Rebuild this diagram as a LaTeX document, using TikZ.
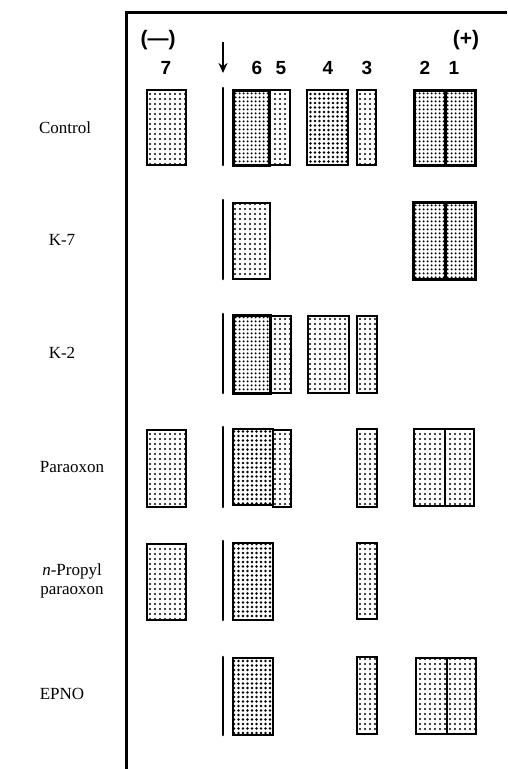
\documentclass[tikz,border=0pt]{standalone}
\usepackage{fontspec}
\setmainfont{Liberation Serif}
\newfontfamily\numfont{Liberation Sans}
\usetikzlibrary{patterns.meta,arrows.meta}
\tikzset{
  gel/.style={draw, line width=2.2pt, inner sep=0pt},
  thin gel/.style={gel, pattern={Dots[distance=5pt, radius=1.2pt]}},
  dense gel/.style={gel, line width=3pt, pattern={Dots[distance=4pt, radius=1.3pt]}},
  mid gel/.style={gel, line width=2.8pt, pattern={Dots[distance=4.5pt, radius=1.3pt]}},
  origin/.style={line width=2.6pt, line cap=round},
  rowlabel/.style={font=\fontsize{17}{19}\selectfont, align=center},
  lanenum/.style={font=\numfont\bfseries\fontsize{19}{21}\selectfont},
  signlabel/.style={font=\numfont\bfseries\fontsize{21}{23}\selectfont},
  frame/.style={line width=3pt}
}
\newcommand\gelband[6]{\node[#6, minimum width={(#3-#2)*1pt}, minimum height={(#5-#4)*1pt}] (#1) at ({(#2+#3)/2},{(#4+#5)/2}) {};}
\newcommand\originline[3]{\coordinate (#1a) at (223,#2); \coordinate (#1b) at (223,#3); \draw[origin] (#1a) -- (#1b);}
\begin{document}
\begin{tikzpicture}[x=1pt,y=-1pt]
\useasboundingbox (0,0) rectangle (507,769);
% frame
\coordinate (fr) at (507,12);
\coordinate (fc) at (126,12);
\coordinate (fb) at (126,769);
\draw[frame] (fr) -- (fc) -- (fb);
% header
\node[signlabel] (minus) at (158,40) {(—)};
\node[signlabel] (plus) at (466,40) {(+)};
\node[lanenum] (n7) at (166,68) {7};
\node[lanenum] (n6) at (257,68) {6};
\node[lanenum] (n5) at (281,68) {5};
\node[lanenum] (n4) at (328,68) {4};
\node[lanenum] (n3) at (367,68) {3};
\node[lanenum] (n2) at (425,68) {2};
\node[lanenum] (n1) at (454,68) {1};
\coordinate (arrA) at (223,42);
\coordinate (arrB) at (223,73);
\draw[line width=2.2pt, -{Stealth[length=10pt,width=9pt]}] (arrA) -- (arrB);
% row labels
\node[rowlabel] (lControl) at (65,128) {Control};
\node[rowlabel] (lK7) at (62,240) {K-7};
\node[rowlabel] (lK2) at (62,353) {K-2};
\node[rowlabel] (lPara) at (72,467) {Paraoxon};
\node[rowlabel] (lProp) at (72,581) {\textit{n}-Propyl\\paraoxon};
\node[rowlabel] (lEPNO) at (62,694) {EPNO};
% Control
\gelband{c7}{147}{186}{90}{165}{thin gel}
\originline{co}{88}{165}
\gelband{c6}{233}{269}{90}{165}{dense gel}
\gelband{c5}{269}{290}{90}{165}{thin gel}
\gelband{c4}{307}{348}{90}{165}{mid gel}
\gelband{c3}{357}{376}{90}{165}{thin gel}
\gelband{c2}{414}{445}{90}{165}{dense gel}
\gelband{c1}{445}{475}{90}{165}{dense gel}
% K-7
\originline{ko}{200}{279}
\gelband{k6}{233}{270}{203}{279}{thin gel}
\gelband{k2}{413}{445}{202}{279}{dense gel}
\gelband{k1}{445}{475}{202}{279}{dense gel}
% K-2
\originline{jo}{314}{393}
\gelband{j6}{233}{270}{315}{393}{dense gel}
\gelband{j5}{270}{291}{316}{393}{thin gel}
\gelband{j4}{308}{349}{316}{393}{thin gel}
\gelband{j3}{357}{377}{316}{393}{thin gel}
% Paraoxon
\gelband{p7}{147}{186}{430}{507}{thin gel}
\originline{po}{427}{507}
\gelband{p6}{233}{273}{429}{505}{mid gel}
\gelband{p5}{273}{291}{430}{507}{thin gel}
\gelband{p3}{357}{377}{429}{507}{thin gel}
\gelband{p2}{414}{445}{429}{506}{thin gel}
\gelband{p1}{445}{474}{429}{506}{thin gel}
% n-Propyl paraoxon
\gelband{n7}{147}{186}{544}{620}{thin gel}
\originline{no}{541}{620}
\gelband{n6}{233}{273}{543}{620}{mid gel}
\gelband{n3}{357}{377}{543}{619}{thin gel}
% EPNO
\originline{eo}{657}{735}
\gelband{e6}{233}{273}{658}{735}{mid gel}
\gelband{e3}{357}{377}{657}{734}{thin gel}
\gelband{e2}{416}{447}{658}{734}{thin gel}
\gelband{e1}{447}{476}{658}{734}{thin gel}
\end{tikzpicture}
\end{document}
